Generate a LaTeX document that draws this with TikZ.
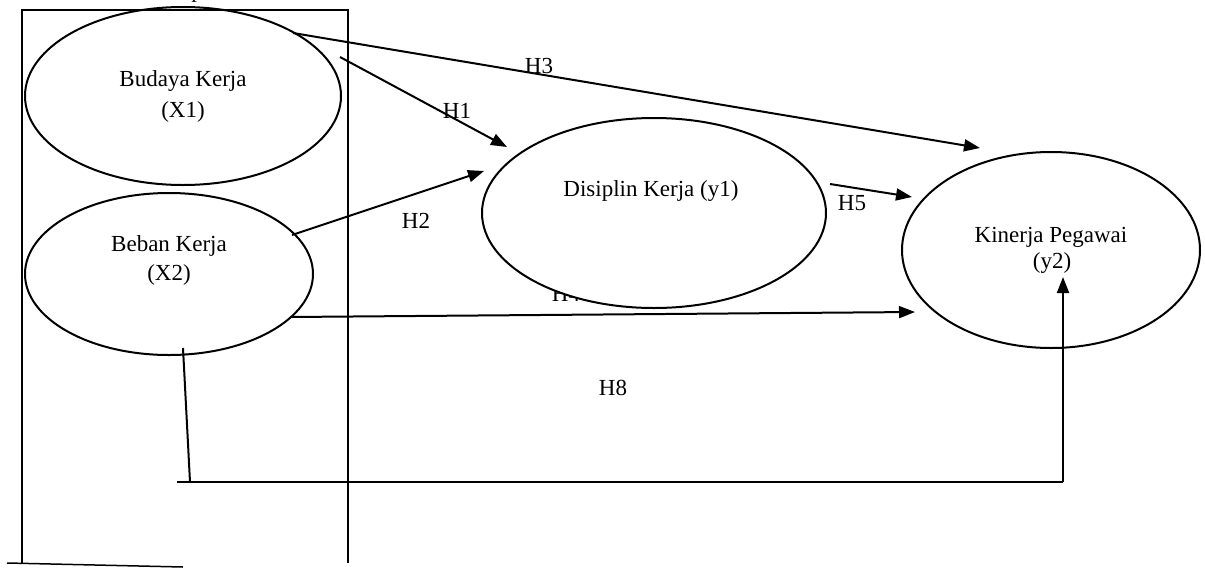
\documentclass[tikz,border=0pt]{standalone}
\usepackage{fontspec}
\setmainfont{Liberation Serif}
\usetikzlibrary{arrows.meta,shapes.geometric}
\begin{document}
\begin{tikzpicture}[x=0.5pt,y=-0.5pt,
  oval/.style={draw,ellipse,line width=1pt,fill=white,inner sep=0pt},
  txt/.style={font=\fontsize{11.5}{13}\selectfont,inner sep=0pt},
  conn/.style={line width=1pt,-{Triangle[length=8pt,width=6pt]}},
  link/.style={line width=1pt},
  frame/.style={line width=0.75pt}]
\useasboundingbox (0,0) rectangle (1205,568);

% heading fragment running off the top edge
\node[txt,anchor=base] (head) at (197,-3) {p};

% hypothesis label hidden behind the mediator
\node[txt] (h4) at (566,294) {H4};

% latent variables
\node[oval,minimum width=158pt,minimum height=89pt] (x1) at (183,96) {};
\node[oval,minimum width=144pt,minimum height=81pt] (x2) at (169,274) {};
\node[oval,minimum width=172pt,minimum height=95pt] (y1) at (654,213) {};
\node[oval,minimum width=149pt,minimum height=98pt] (y2) at (1051,250) {};

\node[txt] (x1a) at (183,81) {Budaya Kerja};
\node[txt] (x1b) at (183,112) {(X1)};
\node[txt] (x2a) at (169,246) {Beban Kerja};
\node[txt] (x2b) at (169,275) {(X2)};
\node[txt] (y1a) at (651,191) {Disiplin Kerja (y1)};
\node[txt] (y2a) at (1051,237) {Kinerja Pegawai};
\node[txt] (y2b) at (1052,263) {(y2)};

% frame around the independent variables
\draw[frame] (22,563) -- (22,10) -- (348,10) -- (348,563);
\draw[frame] (7,563) -- (183,567);

% connector end points
\coordinate (h3s) at (293,33);
\coordinate (h3e) at (980,148);
\coordinate (h1s) at (340,57);
\coordinate (h1e) at (507,147);
\coordinate (h2s) at (292,235);
\coordinate (h2e) at (484,171);
\coordinate (h5s) at (830,184);
\coordinate (h5e) at (912,197);
\coordinate (h4s) at (290,317);
\coordinate (h4e) at (915,312);
\coordinate (h8a) at (183,348);
\coordinate (h8b) at (190,482);
\coordinate (h8c) at (177,482);
\coordinate (h8d) at (1063,482);
\coordinate (h8e) at (1063,277);

\draw[conn] (h3s) -- (h3e);
\draw[conn] (h1s) -- (h1e);
\draw[conn] (h2s) -- (h2e);
\draw[conn] (h5s) -- (h5e);
\draw[conn] (h4s) -- (h4e);
\draw[link] (h8a) -- (h8b);
\draw[link] (h8c) -- (h8d);
\draw[conn] (h8d) -- (h8e);

% hypothesis labels
\node[txt] (h3) at (539,66) {H3};
\node[txt] (h1) at (457,111) {H1};
\node[txt] (h2) at (416,221) {H2};
\node[txt] (h5) at (852,203) {H5};
\node[txt] (h8) at (613,388) {H8};
\end{tikzpicture}
\end{document}
